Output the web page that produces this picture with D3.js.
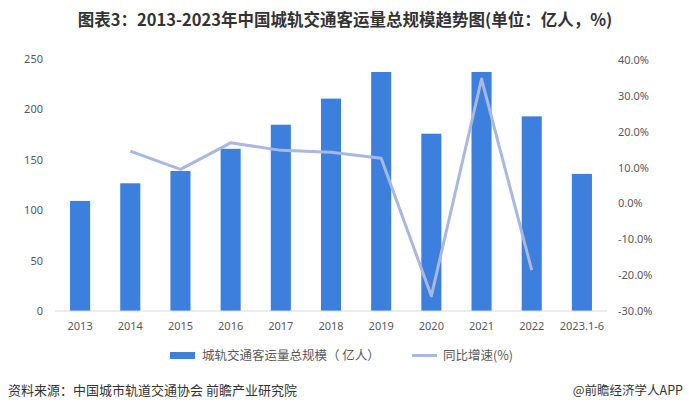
<!DOCTYPE html>
<html><head><meta charset="utf-8">
<script src="https://cdn.jsdelivr.net/npm/d3@7"></script>
<style>
html,body{margin:0;padding:0;background:#fff;}
svg{display:block;font-family:"Noto Sans CJK SC","Microsoft YaHei",sans-serif;}
</style></head>
<body><svg id="c" width="689" height="414"></svg>
<script>
const categories = ["2013","2014","2015","2016","2017","2018","2019","2020","2021","2022","2023.1-6"];
const volume = [109.2, 126.7, 138.9, 160.9, 184.8, 210.7, 237.1, 175.9, 237.1, 193.1, 136.0];
const growth = [null, 14.6, 9.5, 16.9, 14.8, 14.3, 12.6, -25.8, 34.7, -18.6, null];
const leftTicks = [0, 50, 100, 150, 200, 250];
const rightTicks = [-30, -20, -10, 0, 10, 20, 30, 40];
const titleText = "图表3：2013-2023年中国城轨交通客运量总规模趋势图(单位：亿人，%)";
const legendLabels = ["城轨交通客运量总规模（ 亿人）", "同比增速(%)"];
const sourceText = "资料来源：中国城市轨道交通协会 前瞻产业研究院";
const brandText = "@前瞻经济学人APP";

const svg = d3.select("#c");
const barColor = "#3d7fdc", lineColor = "#a8b8e0", textColor = "#595959";

const x = d3.scaleBand().domain(categories).range([55, 607]).paddingInner(0.6).paddingOuter(0.3);
const yL = d3.scaleLinear().domain([0, 250]).range([311, 59]);
const yR = d3.scaleLinear().domain([-30, 40]).range([311, 60]);

// title
svg.append("text").attr("x", 345).attr("y", 26).attr("text-anchor", "middle")
  .attr("font-size", 16.5).attr("font-weight", "bold").attr("fill", "#333")
  .text(titleText);

// bars
svg.append("g").selectAll("rect").data(volume).join("rect")
  .attr("x", (d, i) => x(categories[i]))
  .attr("width", x.bandwidth())
  .attr("y", d => yL(d))
  .attr("height", d => yL(0) - yL(d))
  .attr("fill", barColor);

// baseline
svg.append("line").attr("x1", 55).attr("x2", 607).attr("y1", yL(0)).attr("y2", yL(0))
  .attr("stroke", "#d9d9d9").attr("stroke-width", 1);

// line
const line = d3.line().defined(d => d != null)
  .x((d, i) => x(categories[i]) + x.bandwidth() / 2)
  .y(d => yR(d));
svg.append("path").datum(growth).attr("d", line).attr("fill", "none")
  .attr("stroke", lineColor).attr("stroke-width", 3).attr("stroke-linejoin", "round");

// left axis
const axL = d3.axisLeft(yL).tickValues(leftTicks).tickSize(0).tickPadding(0);
const gL = svg.append("g").attr("transform", "translate(43,0)").call(axL);
gL.select(".domain").remove();
gL.selectAll("text").attr("font-size", 11).attr("fill", textColor).attr("font-family", "Microsoft YaHei, Noto Sans, sans-serif");

// right axis
const axR = d3.axisRight(yR).tickValues(rightTicks).tickSize(0).tickPadding(0)
  .tickFormat(d => d.toFixed(1) + "%");
const gR = svg.append("g").attr("transform", "translate(618,0)").call(axR);
gR.select(".domain").remove();
gR.selectAll("text").attr("font-size", 11).attr("fill", textColor).attr("font-family", "Noto Sans, sans-serif");

// x axis
const axX = d3.axisBottom(x).tickSize(0).tickPadding(0);
const gX = svg.append("g").attr("transform", "translate(0,322)").call(axX);
gX.select(".domain").remove();
gX.selectAll("text").attr("font-size", 11).attr("fill", textColor).attr("font-family", "Noto Sans, sans-serif");

// legend
const lg = svg.append("g");
lg.append("rect").attr("x", 170).attr("y", 352).attr("width", 25).attr("height", 7).attr("fill", barColor);
lg.append("text").attr("x", 202).attr("y", 360).attr("font-size", 12.5).attr("fill", textColor).text(legendLabels[0]);
lg.append("line").attr("x1", 412).attr("x2", 437).attr("y1", 355.5).attr("y2", 355.5).attr("stroke", lineColor).attr("stroke-width", 3);
lg.append("text").attr("x", 443).attr("y", 360).attr("font-size", 12.5).attr("fill", textColor).text(legendLabels[1]);

// footer
svg.append("text").attr("x", 8).attr("y", 395).attr("font-size", 13).attr("fill", "#333").text(sourceText);
svg.append("text").attr("x", 683).attr("y", 395).attr("text-anchor", "end").attr("font-size", 12.5).attr("fill", "#333").text(brandText);
</script></body></html>
